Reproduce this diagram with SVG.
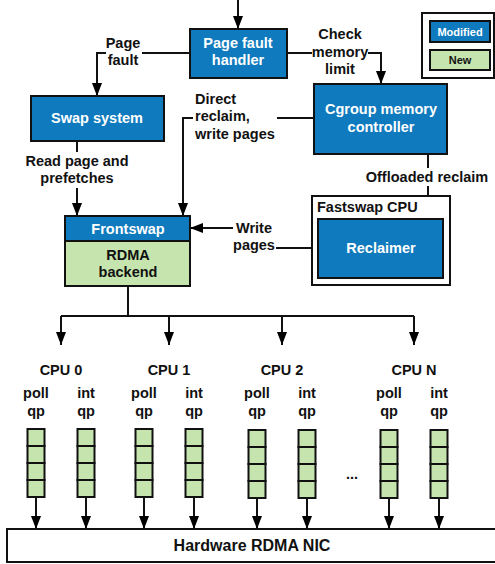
<svg xmlns="http://www.w3.org/2000/svg" width="495" height="564" viewBox="0 0 495 564">
<defs>
<marker id="ah" viewBox="0 0 13 10" refX="13" refY="5" markerWidth="13" markerHeight="10" markerUnits="userSpaceOnUse" orient="auto"><path d="M0,0 L13,5 L0,10 z" fill="#000"/></marker>
<style>
text{font-family:"Liberation Sans",Arial,sans-serif;font-weight:bold;font-size:14.5px;fill:#111}
.w{fill:#fff}
.c{text-anchor:middle}
.blue{fill:#0f7abd;stroke:#111;stroke-width:2}
.green{fill:#c6e5ae;stroke:#111;stroke-width:2}
.plain{fill:#fff;stroke:#111;stroke-width:2}
.ln{fill:none;stroke:#111;stroke-width:2}
.arr{fill:none;stroke:#111;stroke-width:2;marker-end:url(#ah)}
.q{fill:#c6e5ae;stroke:#111;stroke-width:2}
</style>
</defs>
<rect width="495" height="564" fill="#fff"/>

<g id="connectors">
<line class="arr" x1="238" y1="0" x2="238" y2="29"/>
<polyline class="arr" points="190,53 97,53 97,96"/>
<polyline class="arr" points="287,53 381,53 381,84"/>
<polyline class="arr" points="314,118 183,118 183,216"/>
<line class="arr" x1="77" y1="141" x2="77" y2="216"/>
<line class="arr" x1="428" y1="154" x2="428" y2="219"/>
<polyline class="ln" points="318,248 276,248"/>
<line class="arr" x1="233" y1="228" x2="190" y2="228"/>
<polyline class="ln" points="128,286 128,316"/>
<line class="ln" x1="61" y1="316" x2="414" y2="316"/>
<line class="arr" x1="61" y1="316" x2="61" y2="345"/>
<line class="arr" x1="169" y1="316" x2="169" y2="345"/>
<line class="arr" x1="282" y1="316" x2="282" y2="345"/>
<line class="arr" x1="414" y1="316" x2="414" y2="345"/>
<line class="arr" x1="36" y1="497" x2="36" y2="529"/>
<line class="arr" x1="86" y1="497" x2="86" y2="529"/>
<line class="arr" x1="144" y1="497" x2="144" y2="529"/>
<line class="arr" x1="194" y1="497" x2="194" y2="529"/>
<line class="arr" x1="257" y1="497" x2="257" y2="529"/>
<line class="arr" x1="307" y1="497" x2="307" y2="529"/>
<line class="arr" x1="389" y1="497" x2="389" y2="529"/>
<line class="arr" x1="439" y1="497" x2="439" y2="529"/>
</g>

<g id="edge-labels">
<rect x="106" y="35" width="36" height="33" fill="#fff"/>
<text class="c" x="123" y="48">Page</text>
<text class="c" x="123" y="65">fault</text>
<rect x="312" y="25" width="56" height="52" fill="#fff"/>
<text class="c" x="340" y="39">Check</text>
<text class="c" x="340" y="57">memory</text>
<text class="c" x="340" y="74">limit</text>
<rect x="193" y="90" width="84" height="52" fill="#fff"/>
<text x="195" y="104">Direct</text>
<text x="195" y="121">reclaim,</text>
<text x="195" y="139">write pages</text>
<rect x="22" y="152" width="110" height="36" fill="#fff"/>
<text class="c" x="77" y="166">Read page and</text>
<text class="c" x="77" y="183">prefetches</text>
<rect x="364" y="168" width="127" height="18" fill="#fff"/>
<text class="c" x="427" y="182">Offloaded reclaim</text>
<text class="c" x="254" y="233">Write</text>
<text class="c" x="254" y="250">pages</text>
</g>

<g id="page-fault-handler">
<rect class="blue" x="190" y="29" width="97" height="49"/>
<text class="c w" x="238" y="48">Page fault</text>
<text class="c w" x="238" y="65">handler</text>
</g>

<g id="swap-system">
<rect class="blue" x="31" y="96" width="133" height="45"/>
<text class="c w" x="97" y="123">Swap system</text>
</g>

<g id="cgroup-memory-controller">
<rect class="blue" x="314" y="84" width="133" height="70"/>
<text class="c w" x="381" y="114">Cgroup memory</text>
<text class="c w" x="381" y="132">controller</text>
</g>

<g id="legend">
<rect class="plain" x="422" y="13" width="72" height="65"/>
<rect class="blue" x="430" y="21" width="60" height="21"/>
<text class="c w" x="460" y="36" style="font-size:11px">Modified</text>
<rect class="green" x="430" y="50" width="60" height="20"/>
<text class="c" x="460" y="64" style="font-size:11px">New</text>
</g>

<g id="frontswap">
<rect class="blue" x="65" y="216" width="125" height="25"/>
<text class="c w" x="128" y="234">Frontswap</text>
<rect class="green" x="65" y="241" width="125" height="45"/>
<text class="c" x="128" y="260">RDMA</text>
<text class="c" x="128" y="277">backend</text>
</g>

<g id="fastswap-cpu">
<rect class="plain" x="312" y="196" width="138" height="89"/>
<text x="317" y="212">Fastswap CPU</text>
</g>

<g id="reclaimer">
<rect class="blue" x="318" y="219" width="125" height="59"/>
<text class="c w" x="381" y="253">Reclaimer</text>
</g>

<g id="cpu0">
<text class="c" x="61" y="375">CPU 0</text>
<text class="c" x="36" y="398">poll</text><text class="c" x="36" y="416">qp</text>
<text class="c" x="86" y="398">int</text><text class="c" x="86" y="416">qp</text>
<rect class="q" x="27.5" y="429" width="17" height="17"/><rect class="q" x="27.5" y="446" width="17" height="17"/><rect class="q" x="27.5" y="463" width="17" height="17"/><rect class="q" x="27.5" y="480" width="17" height="17"/>
<rect class="q" x="77.5" y="429" width="17" height="17"/><rect class="q" x="77.5" y="446" width="17" height="17"/><rect class="q" x="77.5" y="463" width="17" height="17"/><rect class="q" x="77.5" y="480" width="17" height="17"/>
</g>

<g id="cpu1">
<text class="c" x="169" y="375">CPU 1</text>
<text class="c" x="144" y="398">poll</text><text class="c" x="144" y="416">qp</text>
<text class="c" x="194" y="398">int</text><text class="c" x="194" y="416">qp</text>
<rect class="q" x="135.5" y="429" width="17" height="17"/><rect class="q" x="135.5" y="446" width="17" height="17"/><rect class="q" x="135.5" y="463" width="17" height="17"/><rect class="q" x="135.5" y="480" width="17" height="17"/>
<rect class="q" x="185.5" y="429" width="17" height="17"/><rect class="q" x="185.5" y="446" width="17" height="17"/><rect class="q" x="185.5" y="463" width="17" height="17"/><rect class="q" x="185.5" y="480" width="17" height="17"/>
</g>

<g id="cpu2">
<text class="c" x="282" y="375">CPU 2</text>
<text class="c" x="257" y="398">poll</text><text class="c" x="257" y="416">qp</text>
<text class="c" x="307" y="398">int</text><text class="c" x="307" y="416">qp</text>
<rect class="q" x="248.5" y="430" width="17" height="17"/><rect class="q" x="248.5" y="447" width="17" height="17"/><rect class="q" x="248.5" y="464" width="17" height="17"/><rect class="q" x="248.5" y="481" width="17" height="17"/>
<rect class="q" x="298.5" y="430" width="17" height="17"/><rect class="q" x="298.5" y="447" width="17" height="17"/><rect class="q" x="298.5" y="464" width="17" height="17"/><rect class="q" x="298.5" y="481" width="17" height="17"/>
</g>

<text class="c" x="352" y="479">...</text>

<g id="cpuN">
<text class="c" x="414" y="375">CPU N</text>
<text class="c" x="389" y="398">poll</text><text class="c" x="389" y="416">qp</text>
<text class="c" x="439" y="398">int</text><text class="c" x="439" y="416">qp</text>
<rect class="q" x="380.5" y="430" width="17" height="17"/><rect class="q" x="380.5" y="447" width="17" height="17"/><rect class="q" x="380.5" y="464" width="17" height="17"/><rect class="q" x="380.5" y="481" width="17" height="17"/>
<rect class="q" x="430.5" y="430" width="17" height="17"/><rect class="q" x="430.5" y="447" width="17" height="17"/><rect class="q" x="430.5" y="464" width="17" height="17"/><rect class="q" x="430.5" y="481" width="17" height="17"/>
</g>

<g id="nic">
<rect class="plain" x="7" y="529" width="492" height="33"/>
<text class="c" x="252" y="551" style="font-size:16px">Hardware RDMA NIC</text>
</g>
</svg>
